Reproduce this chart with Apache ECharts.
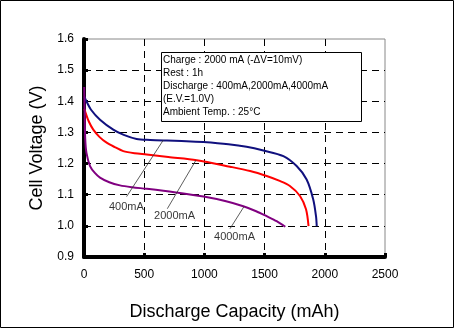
<!DOCTYPE html>
<html><head><meta charset="utf-8">
<script src="https://cdn.jsdelivr.net/npm/echarts@6/dist/echarts.min.js"></script>
<style>html,body{margin:0;padding:0;background:#fff}#c{width:454px;height:328px}</style>
</head><body><div id="c"></div>
<script>
const xTicks = [0, 500, 1000, 1500, 2000, 2500];
const yTicks = [0.9, 1.0, 1.1, 1.2, 1.3, 1.4, 1.5, 1.6];
const seriesNames = ['400mA', '2000mA', '4000mA'];
const curve400 = [[3,1.415],[14,1.405],[60,1.372],[133,1.341],[243,1.309],[330,1.292],[437,1.279],[550,1.276],[687,1.274],[850,1.272],[991,1.269],[1200,1.262],[1350,1.254],[1490,1.242],[1656,1.224],[1766,1.192],[1849,1.149],[1904,1.085],[1927,1.031],[1933,0.999]];
const curve2000 = [[3,1.375],[14,1.362],[40,1.335],[77,1.309],[130,1.285],[188,1.267],[260,1.252],[326,1.240],[420,1.233],[520,1.229],[700,1.221],[936,1.211],[1213,1.190],[1380,1.176],[1517,1.160],[1620,1.145],[1710,1.128],[1794,1.096],[1844,1.053],[1865,0.999]];
const curve4000 = [[2,1.446],[6,1.35],[10,1.28],[20,1.235],[50,1.192],[90,1.170],[133,1.155],[210,1.140],[299,1.130],[400,1.124],[520,1.119],[750,1.108],[993,1.094],[1180,1.079],[1323,1.063],[1430,1.047],[1517,1.031],[1600,1.015],[1672,0.997]];
const leaderLines = [[[354,1.094],[658,1.275]], [[692,1.055],[930,1.211]], [[1213,0.991],[1329,1.062]]];
const labelPoints = [[352,1.062,'400mA'],[752,1.031,'2000mA'],[1250,0.965,'4000mA']];
const infoLines = ['Charge : 2000 mA (-\u0394V=10mV)', 'Rest : 1h', 'Discharge : 400mA,2000mA,4000mA', '(E.V.=1.0V)', 'Ambient Temp. : 25\u00B0C'];
const colors = ['#10107e', '#ff0000', '#800080'];

const FONT = 'Liberation Sans, Arial, sans-serif';
const chart = echarts.init(document.getElementById('c'), null, {renderer: 'canvas'});
const curves = [curve400, curve2000, curve4000];
const series = curves.map((d, i) => ({
  name: seriesNames[i], type: 'line', data: d, showSymbol: false, smooth: 0.3,
  lineStyle: {color: colors[i], width: 2}, z: 3,
  markLine: {silent: true, symbol: ['none','none'], label: {show: false},
    lineStyle: {color: '#333', width: 0.8, type: 'solid'},
    data: [[{coord: leaderLines[i][0]}, {coord: leaderLines[i][1]}]]}
}));
series.push({
  type: 'scatter', data: labelPoints, symbolSize: 0, silent: true, z: 4,
  label: {show: true, position: 'inside', formatter: p => p.data[2], color: '#000', fontSize: 11, fontFamily: FONT}
});
chart.setOption({
  animation: false,
  backgroundColor: '#fff',
  grid: {left: 84, right: 69, top: 39, bottom: 71, show: true, borderColor: '#888', borderWidth: 1},
  xAxis: {
    type: 'value', min: xTicks[0], max: xTicks[xTicks.length-1], interval: 500,
    name: 'Discharge Capacity (mAh)', nameLocation: 'middle', nameGap: 46,
    nameTextStyle: {fontSize: 18, color: '#000', fontFamily: FONT},
    axisLine: {show: true, lineStyle: {color: '#000', width: 4}},
    axisTick: {show: true, inside: true, length: 4, lineStyle: {color: '#000', width: 3}},
    axisLabel: {fontSize: 12, color: '#000', fontFamily: FONT, margin: 12, formatter: v => String(v)},
    splitLine: {show: true, showMinLine: false, showMaxLine: false, lineStyle: {color: '#000', type: [7,5], width: 1}}
  },
  yAxis: {
    type: 'value', min: yTicks[0], max: yTicks[yTicks.length-1], interval: 0.1,
    name: 'Cell Voltage (V)', nameLocation: 'middle', nameGap: 38,
    nameTextStyle: {fontSize: 18, color: '#000', fontFamily: FONT},
    axisLine: {show: true, lineStyle: {color: '#000', width: 4}},
    axisTick: {show: true, inside: true, length: 4, lineStyle: {color: '#000', width: 3}},
    axisLabel: {fontSize: 12, color: '#000', fontFamily: FONT, margin: 10, formatter: v => v.toFixed(1)},
    splitLine: {show: true, showMinLine: false, showMaxLine: false, lineStyle: {color: '#000', type: [7,5], width: 1}}
  },
  graphic: [
    {type: 'rect', shape: {x: 0.5, y: 0.5, width: 453, height: 327}, style: {fill: 'none', stroke: '#000', lineWidth: 1}, z: 10},
    {type: 'rect', shape: {x: 161.5, y: 52.5, width: 200, height: 69}, style: {fill: '#fff', stroke: '#000', lineWidth: 1}, z: 10},
    {type: 'text', left: 163, top: 54, z: 11,
      style: {text: infoLines.join('\n'), font: '10px ' + FONT, fill: '#000', lineHeight: 12.9}}
  ],
  series: series
});
</script></body></html>
